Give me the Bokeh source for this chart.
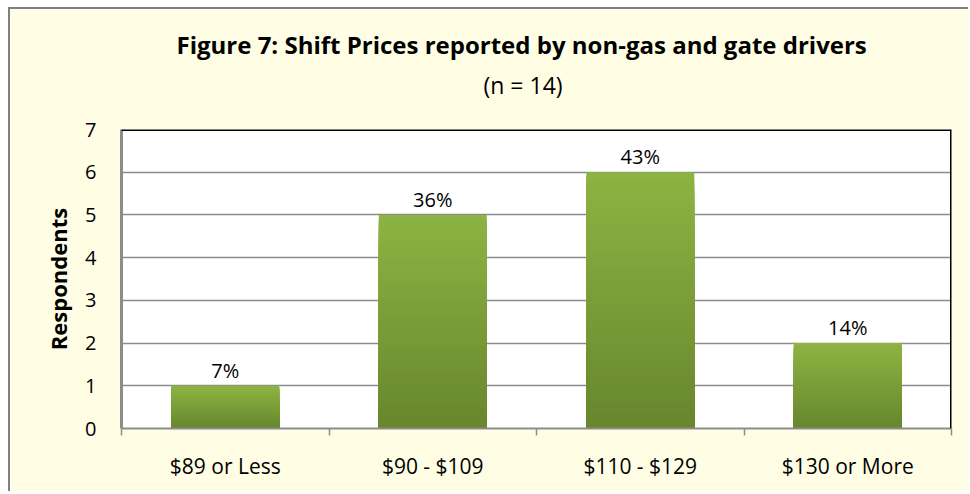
from bokeh.plotting import figure
from bokeh.models import FixedTicker, Span, Title, ColumnDataSource
from bokeh.core.properties import value
from bokeh.embed import file_html
from bokeh.resources import INLINE

# ---- data ----
categories = ["$89 or Less", "$90 - $109", "$110 - $129", "$130 or More"]
respondents = [1, 5, 6, 2]
pct_labels = ["7%", "36%", "43%", "14%"]
y_ticks = [0, 1, 2, 3, 4, 5, 6, 7]

title_text = "Figure 7:  Shift Prices reported by non-gas and gate drivers"
subtitle_text = "(n = 14)"

FONT = "Open Sans"
BG = "#FFFEE5"
TOP_C = (0x8D, 0xB4, 0x42)
BOT_C = (0x67, 0x86, 0x2E)

W, H = 960, 484
p = figure(width=W, height=H, x_range=(0, len(categories)), y_range=(0, 7),
           output_backend="svg", toolbar_location=None,
           min_border_left=111, min_border_right=19, min_border_top=120, min_border_bottom=65,
           background_fill_color="white", border_fill_color=BG)
p.styles = {"border-left": "2px solid #7f7f7f", "border-top": "2px solid #7f7f7f",
            "margin-left": "8px", "margin-top": "7px"}
p.outline_line_color = None

# gradient bars: nested rectangles, each drawn from 0 up to a fraction of the value
N = 60
bw = 0.52
xs_l, xs_r, ys_t, cols = [], [], [], []
for k in range(N):
    t = 1 - k / N  # fraction of bar height (top of this layer)
    c = tuple(int(round(BOT_C[j] + (TOP_C[j] - BOT_C[j]) * (t - 0.5 / N))) for j in range(3))
    for i, v in enumerate(respondents):
        xs_l.append(i + 0.5 - bw / 2)
        xs_r.append(i + 0.5 + bw / 2)
        ys_t.append(v * t)
        cols.append("#%02x%02x%02x" % c)
p.quad(left=xs_l, right=xs_r, bottom=0, top=ys_t, fill_color=cols, line_color=None)

# value labels
src = ColumnDataSource(dict(x=[i + 0.5 for i in range(len(categories))], y=respondents, t=pct_labels))
p.text(x="x", y="y", text="t", source=src, text_align="center", text_baseline="bottom",
       y_offset=-2, text_font=value(FONT), text_font_size="20px", text_color="black")

# grid
p.xgrid.visible = False
p.ygrid.ticker = FixedTicker(ticks=y_ticks)
p.ygrid.grid_line_color = "#8C8C8C"
p.ygrid.grid_line_width = 1.5

# frame top/right black
p.add_layout(Span(location=7, dimension="width", line_color="black", line_width=3))
p.add_layout(Span(location=len(categories), dimension="height", line_color="black", line_width=3))

# y axis
p.yaxis.ticker = FixedTicker(ticks=y_ticks)
p.yaxis.axis_line_color = "#8C8C8C"
p.yaxis.axis_line_width = 3
p.yaxis.major_tick_line_color = None
p.yaxis.minor_tick_line_color = None
p.yaxis.major_tick_out = 0
p.yaxis.major_label_standoff = 25
p.yaxis.major_label_text_font = FONT
p.yaxis.major_label_text_font_size = "20px"
p.yaxis.major_label_text_color = "black"
p.yaxis.axis_label = "Respondents"
p.yaxis.axis_label_text_font = FONT
p.yaxis.axis_label_text_font_style = "bold"
p.yaxis.axis_label_text_font_size = "22px"
p.yaxis.axis_label_text_color = "black"
p.yaxis.axis_label_standoff = 9

# x axis
centers = [i + 0.5 for i in range(len(categories))]
bounds = list(range(len(categories) + 1))
p.xaxis.ticker = FixedTicker(ticks=centers, minor_ticks=bounds)
p.xaxis.major_label_overrides = {c: lab for c, lab in zip(centers, categories)}
p.xaxis.axis_line_color = "#8C8C8C"
p.xaxis.axis_line_width = 2
p.xaxis.major_tick_line_color = None
p.xaxis.major_tick_out = 0
p.xaxis.major_tick_in = 0
p.xaxis.minor_tick_line_color = "#8C8C8C"
p.xaxis.minor_tick_line_width = 1.5
p.xaxis.minor_tick_out = 7
p.xaxis.minor_tick_in = 0
p.xaxis.major_label_standoff = 16
p.xaxis.major_label_text_font = FONT
p.xaxis.major_label_text_font_size = "21px"
p.xaxis.major_label_text_color = "black"

# titles above the frame (first added sits closest to the frame)
p.add_layout(Title(text=" ", align="left", standoff=13, text_font=FONT,
                   text_font_size="10px", text_color=BG), "above")
p.add_layout(Title(text=subtitle_text, align="left", offset=362, standoff=0, text_font=FONT,
                   text_font_size="23px", text_font_style="normal", text_color="black"), "above")
p.add_layout(Title(text=title_text, align="left", offset=55, standoff=11, text_font=FONT,
                   text_font_size="24px", text_font_style="bold", text_color="black"), "above")

open("out.html", "w").write(file_html(p, INLINE))
